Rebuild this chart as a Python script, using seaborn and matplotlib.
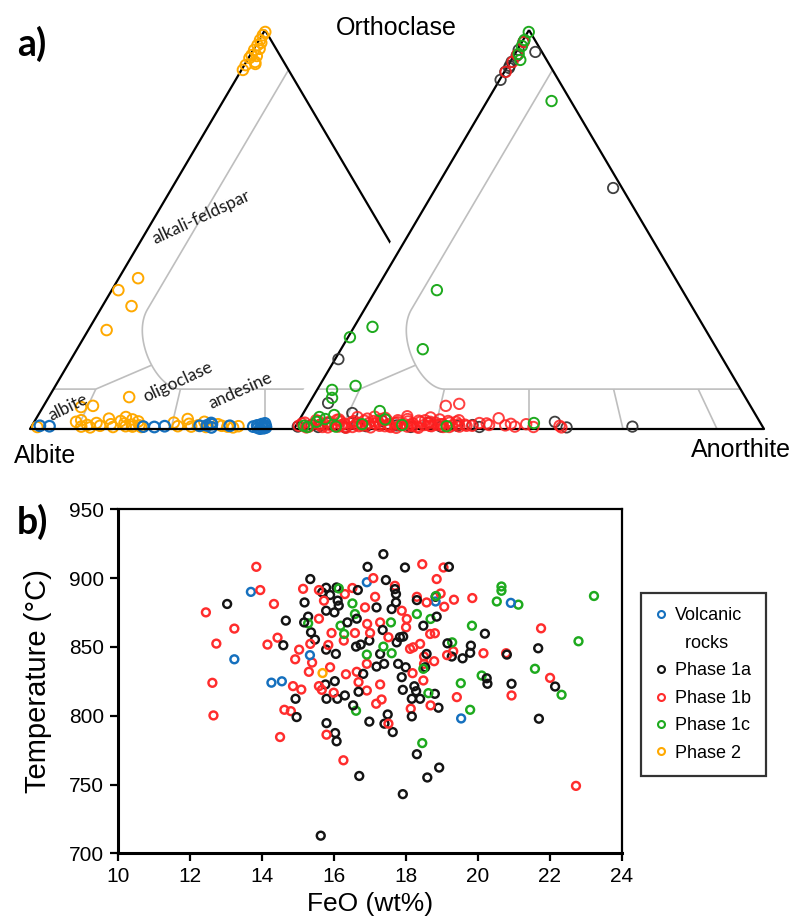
import numpy as np
import pandas as pd
import matplotlib
matplotlib.use("Agg")
import matplotlib.pyplot as plt
from matplotlib.lines import Line2D
from matplotlib.patches import Polygon
import seaborn as sns

# ---------------------------------------------------------------- data
GROUPS = ["Volcanic rocks", "Phase 1a", "Phase 1b", "Phase 1c", "Phase 2"]
COLORS = {"Volcanic rocks": "#1570BE", "Phase 1a": "#141414",
          "Phase 1b": "#FF2D2D", "Phase 1c": "#1EAA1E", "Phase 2": "#FFA900"}

# Feldspar compositions (mol% An, mol% Or; Ab = 100 - An - Or)
# Left diagram: volcanic rocks and Phase 2
volc_an = [1.7, 3.8, 23.8, 26.2, 28.3, 35.7, 37.2, 37.8, 38.4, 38.1, 42.1, 47.2,
           47.9, 48.3, 48.7, 49.1, 49.4, 49.6, 49.8, 50.0, 48.9, 49.3]
volc_or = [0.8, 0.7, 0.6, 0.5, 0.7, 0.8, 0.9, 1.5, 0.4, 1.2, 0.8, 0.6,
           0.9, 0.3, 1.2, 0.5, 0.9, 0.2, 0.7, 0.4, 0.1, 1.4]
p2_an = [0.3, 0.2, 0.2, 0.3, 0.2, 0.3, 0.2, 0.3, 0.3, 1.9, 1.5, 1.2, 2.2, 0.8,
         4.1, 1.4, 6.2, 3.9, 17.1, 8.1, 10.5,
         1.3, 8.9, 9.8, 10.6, 11.7, 12.6, 13.4, 14.5, 15.5, 16.6, 17.4, 18.3,
         18.9, 19.4, 20.0, 20.6, 21.1, 21.5, 22.1, 22.8, 23.4,
         29.8, 31.1, 32.3, 33.2, 34.0, 35.3, 36.2, 37.2, 39.4, 40.4, 41.7, 43.0, 44.0]
p2_or = [99.5, 98.7, 97.5, 96.2, 95.0, 93.7, 93.0, 91.2, 90.0, 92.0, 93.5, 95.3, 91.5, 96.8,
         37.8, 34.8, 30.8, 24.8, 8.0, 5.5, 5.8,
         0.5, 1.8, 2.2, 0.6, 1.0, 0.4, 1.5, 0.8, 2.6, 1.2, 0.5, 2.0,
         3.0, 1.4, 0.7, 2.4, 1.1, 0.6, 1.9, 0.9, 0.5,
         1.6, 0.7, 2.5, 1.3, 0.6, 0.9, 1.8, 0.5, 1.2, 0.8, 0.6, 0.4, 0.7]

# Right diagram: Phase 1 intrusions
p1a_an = [0.2, 0.2, 0.3, 0.3, 0.5, 0.4, 0.6, 0.3, 4.1, 37.7, 0.7, 10.4, 4.0,
          0.5, 3.2, 4.9, 6.4, 8.6, 10.7, 12.8, 15.0, 17.8, 21.4, 24.6, 27.8,
          31.0, 34.3, 37.5, 39.2, 54.6, 57.8, 71.7]
p1a_or = [87.5, 89.5, 92.0, 95.0, 90.5, 91.0, 93.5, 97.0, 94.5, 60.4, 17.5, 4.0, 6.5,
          0.6, 1.0, 0.5, 1.5, 0.8, 0.4, 1.2, 0.7, 2.0, 0.9, 0.5, 1.6,
          0.6, 0.8, 1.0, 0.5, 1.8, 0.4, 0.6]
p1b_an = [0.5, 0.3, 0.4, 0.6, 29.4, 32.0,
          0.6, 1.5, 2.4, 3.6, 4.9, 5.8, 6.6, 7.5, 8.4, 9.2, 10.1, 10.9, 11.8, 12.6,
          13.5, 14.3, 15.2, 16.1, 16.9, 17.8, 18.6, 19.5, 20.3, 21.2, 22.1, 22.9,
          23.8, 24.6, 25.5, 26.3, 27.2, 28.1, 28.9, 29.8, 30.6, 31.5, 32.3, 33.2,
          34.0, 34.9, 35.8, 37.5, 40.3, 42.2, 44.5, 46.7, 48.8, 50.7, 56.1, 56.7,
          1.0, 2.9, 4.2, 5.2, 7.0, 8.0, 9.6, 11.4, 12.2, 13.9, 14.8, 16.5, 17.3,
          19.0, 20.8, 21.6, 23.3, 24.2, 25.9, 26.8, 28.5, 29.3, 31.0, 32.8, 33.6,
          12.0, 18.0, 22.5, 27.6, 15.6,
          6.0, 8.9, 10.5, 13.0, 14.0, 16.0, 17.6, 19.9, 21.0, 23.0, 24.9, 26.0,
          28.0, 30.0, 31.8, 34.4, 36.3, 38.7, 41.0, 45.5]
p1b_or = [92.0, 89.5, 97.0, 93.8, 5.8, 6.3,
          0.8, 1.6, 0.4, 2.2, 1.0, 0.5, 1.8, 0.9, 2.4, 0.6, 1.3, 0.3, 2.0, 1.1,
          0.7, 2.6, 1.5, 0.4, 1.9, 0.8, 2.3, 1.2, 0.5, 1.7, 0.9, 2.5,
          0.6, 1.4, 2.1, 0.3, 1.0, 1.8, 0.7, 2.4, 1.2, 0.5, 1.6, 0.9,
          2.2, 0.6, 1.1, 0.8, 1.4, 2.7, 0.9, 0.6, 1.2, 0.5, 0.8, 0.4,
          1.4, 0.6, 2.0, 1.2, 0.4, 2.3, 1.0, 1.7, 0.5, 2.1, 0.9, 1.3, 2.5,
          0.7, 1.5, 0.3, 1.9, 1.1, 0.6, 2.2, 0.8, 1.6, 1.2, 0.5, 1.8,
          3.0, 2.8, 3.2, 2.9, 3.1,
          1.1, 1.9, 0.6, 1.5, 0.9, 2.0, 1.3, 0.8, 2.2, 1.2, 0.7, 1.8,
          1.4, 1.0, 2.0, 1.2, 0.8, 1.5, 1.0, 1.3]
p1c_an = [0.2, 0.3, 1.9, 0.5, 0.8, 13.7, 13.0, 3.9, 0.4, 17.4, 7.7, 3.2, 4.2,
          16.0, 3.9, 1.7, 3.9, 5.4, 8.6, 13.9, 18.2, 22.5, 32.1, 50.3, 2.6, 6.8]
p1c_or = [99.5, 97.5, 92.5, 96.0, 94.0, 82.2, 34.8, 25.6, 23.0, 20.0, 10.8, 9.8, 7.8,
          4.5, 3.0, 0.8, 1.8, 2.5, 0.6, 1.2, 2.4, 1.0, 0.7, 1.5, 0.5, 3.5]

# Biotite FeO (wt%) and temperature (deg C)
volc_feo = [13.70, 13.24, 14.27, 14.56, 15.34, 16.92, 18.83, 20.92, 19.54]
volc_t = [890, 841, 824, 825, 844, 897, 883, 882, 798]

p1a_feo = [13.04, 14.67, 14.60, 15.35, 15.19, 15.29, 15.18, 15.37, 15.48, 14.94,
           14.97, 15.79, 15.68, 15.90, 16.08, 16.11, 15.79, 16.02, 16.14, 16.38,
           16.64, 16.67, 16.94, 15.79, 16.06, 16.62, 16.75, 16.82, 15.77, 16.03,
           15.80, 16.10, 16.31, 16.69, 16.54, 15.80, 16.04, 16.08, 16.71, 15.64,
           16.99, 16.99,
           17.38, 17.98, 19.20, 17.45, 17.70, 17.73, 17.73, 17.19, 17.61, 18.31,
           18.83, 18.86, 18.49, 17.36, 17.84, 17.93, 17.75, 19.16, 19.81, 19.79,
           19.58, 19.28, 20.81, 21.68, 20.20, 18.58, 17.29, 17.40, 17.19, 17.79,
           18.00, 18.54, 17.89, 18.24, 18.29, 18.17, 18.40, 18.81, 18.91, 17.92,
           20.25, 20.27, 20.94, 22.15, 21.70, 18.17, 17.50, 17.41, 17.64, 18.31,
           18.93, 18.60, 17.92]
p1a_t = [881.2, 869.1, 851.2, 899.3, 882.3, 872.0, 867.8, 860.6, 855.3, 812.3,
         799.0, 893.0, 889.6, 887.7, 893.2, 883.6, 876.3, 875.1, 880.0, 867.8,
         870.5, 891.3, 908.2, 848.0, 844.9, 850.2, 851.7, 830.4, 822.7, 825.1,
         812.3, 812.3, 814.7, 817.4, 807.5, 794.6, 787.4, 781.4, 756.2, 712.8,
         795.7, 854.6,
         917.4, 907.7, 908.2, 898.6, 892.0, 888.4, 882.3, 878.7, 877.5, 884.0,
         886.4, 872.0, 865.4, 862.3, 857.0, 857.5, 853.3, 852.6, 850.9, 845.7,
         841.7, 843.0, 844.4, 849.0, 859.6, 844.9, 844.9, 837.7, 835.7, 837.7,
         835.2, 835.2, 828.0, 821.4, 817.8, 812.3, 812.3, 815.9, 805.8, 818.8,
         827.2, 823.2, 823.2, 821.2, 797.8, 799.5, 800.9, 794.2, 788.1, 772.0,
         762.3, 755.1, 743.0]

p1b_feo = [13.85, 13.96, 12.45, 14.34, 13.24, 12.74, 14.44, 14.16, 15.04, 14.93,
           12.63, 12.66, 15.31, 14.87, 15.10, 14.63, 14.81, 14.51, 15.15, 15.35,
           15.40, 15.59, 15.67, 15.59, 15.59, 15.73, 15.90, 15.85, 16.34, 15.80,
           16.27, 16.00, 16.28, 16.59, 16.52, 16.31, 16.64, 16.69, 16.87, 16.92,
           16.93, 16.92, 15.94, 17.01,
           18.46, 19.05, 18.86, 17.10, 17.15, 17.70, 17.89, 18.31, 18.58, 18.97,
           19.07, 19.34, 19.85, 18.03, 18.01, 17.29, 17.52, 18.68, 18.81, 18.40,
           18.12, 18.21, 18.51, 18.79, 19.32, 20.16, 20.79, 21.76, 22.01, 20.94,
           19.42, 18.69, 18.14, 17.33, 17.18, 17.29, 18.19, 18.49, 18.51, 17.52,
           22.73, 19.15]
p1b_t = [908.2, 891.3, 875.1, 881.2, 863.3, 852.4, 856.7, 851.7, 848.0, 841.0,
         823.9, 800.2, 831.9, 821.5, 819.0, 804.3, 803.3, 784.5, 892.2, 852.2,
         838.6, 821.5, 818.8, 870.5, 891.3, 883.6, 835.2, 851.4, 830.1, 786.2,
         767.6, 816.7, 854.6, 860.1, 892.8, 888.4, 831.9, 824.4, 878.7, 818.3,
         866.7, 837.7, 860.1, 860.1,
         910.1, 907.7, 899.3, 900.0, 886.4, 894.4, 876.3, 886.4, 882.3, 888.8,
         879.2, 884.3, 885.5, 870.3, 864.2, 867.8, 857.0, 859.4, 859.9, 852.2,
         848.6, 849.7, 843.0, 839.6, 846.8, 845.4, 845.4, 863.5, 827.5, 814.7,
         813.5, 807.5, 805.1, 811.8, 808.7, 822.7, 830.9, 825.6, 837.7, 794.2,
         749.0, 844.0]

p1c_feo = [16.14, 16.52, 16.59, 15.29, 16.19, 16.29, 16.62, 16.92, 20.66, 20.66,
           20.53, 21.13, 23.23, 18.84, 18.31, 18.69, 17.59, 19.84, 19.29, 22.80,
           17.38, 17.61, 18.49, 21.59, 20.11, 19.53, 22.33, 18.63, 19.79, 18.46]
p1c_t = [892.5, 881.6, 873.9, 867.1, 865.4, 859.4, 803.6, 844.4, 893.9, 890.8,
         883.0, 880.7, 887.0, 887.0, 873.9, 870.3, 867.8, 865.4, 853.3, 854.1,
         850.2, 845.4, 834.1, 834.1, 829.2, 823.6, 815.2, 816.4, 804.3, 780.1]

p2_feo = [15.69]
p2_t = [831.0]

FEO_TICKS = [10, 12, 14, 16, 18, 20, 22, 24]
T_TICKS = [700, 750, 800, 850, 900, 950]

# ---------------------------------------------------------------- style
sns.set_theme(style="ticks")
plt.rcParams['font.family'] = ['Liberation Sans', 'DejaVu Sans']
plt.rcParams.update({"text.color": "black", "axes.labelcolor": "black",
                     "xtick.color": "black", "ytick.color": "black"})

W, H = 792, 924
fig = plt.figure(figsize=(W / 100, H / 100), dpi=100)


def fx(px):
    return px / W


def fy(py):
    return 1 - py / H


# ---------------------------------------------------------------- ternary panel
# one data unit = one triangle side; the Ab corner of the left triangle sits at (0, 0)
ax_t = fig.add_axes([0, fy(470), 1, 470 / H])
ax_t.set_xlim(-30 / 470, (W - 30) / 470)
ax_t.set_ylim(-41 / 399, 429 / 399)
ax_t.axis("off")

OFF_R = 0.5617   # horizontal shift of the right-hand triangle
GREY = "#BEBEBE"


def tern(an, orr, off):
    an = np.asarray(an, float) / 100
    orr = np.asarray(orr, float) / 100
    return off + an + orr / 2, orr


def field_lines(off, z):
    def seg(pts):
        a = np.array(pts, float)
        x, y = tern(a[:, 0], a[:, 1], off)
        ax_t.plot(x, y, color=GREY, lw=1.2, zorder=z, solid_capstyle="butt")

    # alkali-feldspar boundary: An = 10 line bending round onto Or = 10
    t = np.linspace(0, 1, 80)[:, None]
    B, C1, C2, D = (np.array(p, float) for p in [(10, 30), (10, 23), (22, 10), (27, 10)])
    bez = (1 - t) ** 3 * B + 3 * (1 - t) ** 2 * t * C1 + 3 * (1 - t) * t ** 2 * C2 + t ** 3 * D
    seg(np.vstack([[(10, 90)], bez, [(90, 10)]]))
    J = bez[44]
    seg([(0, 10), (9, 10), tuple(J)])
    # plagioclase subdivisions (An/(An+Ab) = 10, 30, 50, 70, 90)
    for r in (0.1, 0.3, 0.5, 0.7, 0.9):
        seg([(r * 90, 10), (r * 100, 0)])


def triangle(off, z, sides):
    corners = {"ab": (0, 0), "or": (0, 100), "an": (100, 0)}
    for a, b in sides:
        x, y = tern([corners[a][0], corners[b][0]], [corners[a][1], corners[b][1]], off)
        ax_t.plot(x, y, color="black", lw=1.6, zorder=z, solid_capstyle="butt")


def rings(ax, x, y, color, size, lw, alpha=1.0, z=3):
    sns.scatterplot(x=np.asarray(x), y=np.asarray(y), ax=ax, color=color, s=size,
                    linewidth=lw, alpha=alpha, legend=False, zorder=z)
    coll = ax.collections[-1]
    coll.set_facecolor("none")
    coll.set_edgecolor(color)
    coll.set_clip_on(False)


# left triangle
field_lines(0.0, 1)
triangle(0.0, 2, [("ab", "or"), ("or", "an")])
x, y = tern(p2_an, p2_or, 0.0)
rings(ax_t, x, y, COLORS["Phase 2"], 58, 1.4, z=3)
x, y = tern(volc_an, volc_or, 0.0)
rings(ax_t, x, y, COLORS["Volcanic rocks"], 58, 1.6, z=3)

# the right triangle sits in front of the left one
ax_t.add_patch(Polygon([(OFF_R - 0.029, 0), (OFF_R + 0.5 - 0.029, 1.0),
                        (OFF_R + 0.5, 1.0), (OFF_R + 1.0, 0)],
                       closed=True, facecolor="white", edgecolor="none", zorder=4))
field_lines(OFF_R, 5)
triangle(OFF_R, 6, [("ab", "or"), ("or", "an")])
ax_t.plot([0, OFF_R + 1.0], [0, 0], color="black", lw=1.6, zorder=6)

x, y = tern(p1a_an, p1a_or, OFF_R)
rings(ax_t, x, y, "#2B2B2B", 56, 1.3, alpha=0.9, z=7)
x, y = tern(p1b_an, p1b_or, OFF_R)
rings(ax_t, x, y, "#FF2020", 56, 1.4, alpha=0.85, z=7)
x, y = tern(p1c_an, p1c_or, OFF_R)
rings(ax_t, x, y, COLORS["Phase 1c"], 56, 1.4, z=7)

# field names
for txt, (an, orr), rot in [("alkali-feldspar", (10.0, 53.0), 25),
                            ("oligoclase", (25.5, 11.8), 25),
                            ("andesine", (40.0, 9.5), 24),
                            ("albite", (5.3, 5.5), 26)]:
    x, y = tern(an, orr, 0.0)
    ax_t.text(x, y, txt, rotation=rot, ha="center", va="center", fontsize=12.5,
              family=["Lato", "DejaVu Sans"], color="#1a1a1a", zorder=8)

fig.text(fx(396), fy(28), "Orthoclase", ha="center", va="center", fontsize=18)
fig.text(fx(14), fy(456), "Albite", ha="left", va="center", fontsize=18)
fig.text(fx(791), fy(450), "Anorthite", ha="right", va="center", fontsize=18)
fig.text(fx(17), fy(44), "a)", ha="left", va="center", fontsize=27, fontweight="bold",
         family=["Lato", "DejaVu Sans"])
fig.text(fx(17), fy(522), "b)", ha="left", va="center", fontsize=27, fontweight="bold",
         family=["Lato", "DejaVu Sans"])

# ---------------------------------------------------------------- FeO vs T panel
ax = fig.add_axes([fx(117.7), fy(853.3), (621.7 - 117.7) / W, (853.3 - 509.3) / H])

frames = []
for g, fe, tt in [("Phase 1b", p1b_feo, p1b_t), ("Phase 1a", p1a_feo, p1a_t),
                  ("Phase 1c", p1c_feo, p1c_t), ("Volcanic rocks", volc_feo, volc_t),
                  ("Phase 2", p2_feo, p2_t)]:
    frames.append(pd.DataFrame({"FeO": fe, "T": tt, "Group": g}))
df = pd.concat(frames, ignore_index=True)
# interleave groups a little so no colour sits entirely on top
df = df.iloc[np.argsort(df["FeO"].values * 7.3 % 1.0, kind="stable")]

sns.scatterplot(data=df, x="FeO", y="T", hue="Group", palette=COLORS, s=32,
                linewidth=1.75, legend=False, ax=ax)
coll = ax.collections[-1]
coll.set_edgecolors(coll.get_facecolors())
coll.set_facecolors("none")

ax.set_xlim(10, 24)
ax.set_ylim(700, 950)
ax.set_xticks(FEO_TICKS)
ax.set_yticks(T_TICKS)
ax.tick_params(direction="out", length=6, width=1.6, color="black",
               labelsize=15, pad=4)
for side, lw in [("left", 2.2), ("bottom", 2.2), ("top", 1.6), ("right", 1.6)]:
    ax.spines[side].set_visible(True)
    ax.spines[side].set_color("black")
    ax.spines[side].set_linewidth(lw)
ax.set_xlabel("FeO (wt%)", fontsize=19, labelpad=4)
ax.set_ylabel("Temperature (°C)", fontsize=21, labelpad=12)

handles, labels = [], []
for g, lab in [("Volcanic rocks", "Volcanic"), (None, "  rocks"), ("Phase 1a", "Phase 1a"),
               ("Phase 1b", "Phase 1b"), ("Phase 1c", "Phase 1c"), ("Phase 2", "Phase 2")]:
    if g is None:
        handles.append(Line2D([], [], linestyle="none", marker=None))
    else:
        handles.append(Line2D([], [], linestyle="none", marker="o", markersize=5,
                              markerfacecolor="none", markeredgecolor=COLORS[g],
                              markeredgewidth=1.5))
    labels.append(lab)
leg = fig.legend(handles, labels, loc="upper left", bbox_to_anchor=(fx(641), fy(593)),
                 fontsize=13, frameon=True, fancybox=False, edgecolor="black",
                 handlelength=0.6, handletextpad=0.5, labelspacing=0.58,
                 borderpad=0.8, borderaxespad=0)
leg.get_frame().set_linewidth(1.6)

fig.savefig("out.png", dpi=100)
